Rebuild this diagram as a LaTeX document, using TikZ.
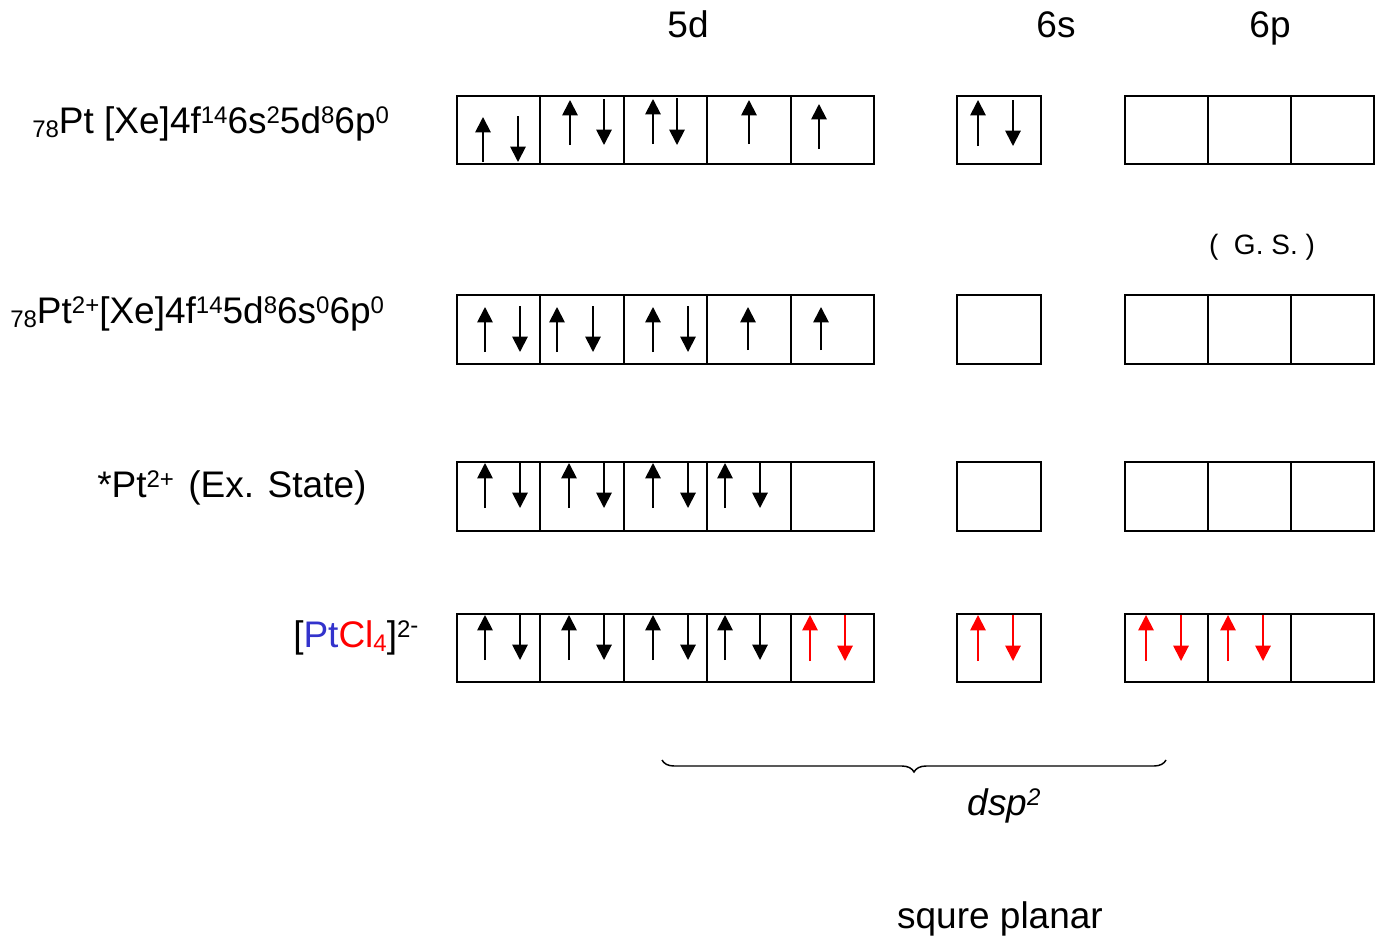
\documentclass[tikz,border=0pt]{standalone}
\usepackage{fontspec}
\setmainfont{Liberation Sans}
\usetikzlibrary{arrows.meta,decorations.pathreplacing}

\definecolor{ptblue}{RGB}{51,51,204}
\newcommand\supx[1]{\raisebox{7.5pt}{\fontsize{18}{18}\selectfont #1}}
\newcommand\subx[1]{\raisebox{-3pt}{\fontsize{18}{18}\selectfont #1}}

\tikzset{
  orb/.style={draw, line width=1.5pt, minimum width=62.55pt, minimum height=51.4pt,
              inner sep=0pt, outer sep=0pt},
  lbl/.style={anchor=base west, inner sep=0pt, font=\fontsize{27.75}{30}\selectfont},
  hdr/.style={anchor=base, inner sep=0pt, font=\fontsize{27.75}{30}\selectfont},
  spin/.style={line width=1.4pt, -{Triangle[width=11.5pt,length=11.5pt]}},
}

\begin{document}
\begin{tikzpicture}[x=0.75pt, y=-0.75pt]
\path[use as bounding box] (0,0) rectangle (1380,939);

% orbital headers
\node[hdr] (h5d) at (688,37) {5d};
\node[hdr] (h6s) at (1056,37) {6s};
\node[hdr] (h6p) at (1270,37) {6p};

% rows of orbital boxes: 5d (five), 6s (one), 6p (three)
\foreach \r/\yc in {1/130, 2/329.5, 3/496.5, 4/648}{
  \foreach \i/\xc in {1/498.7, 2/582.1, 3/665.5, 4/748.9, 5/832.3}
    \node[orb] (r\r d\i) at (\xc,\yc) {};
  \node[orb] (r\r s) at (999,\yc) {};
  \foreach \i/\xc in {1/1166.5, 2/1249.5, 3/1332.5}
    \node[orb] (r\r p\i) at (\xc,\yc) {};
}

% configuration labels
\node[lbl] (l1) at (32,133) {\subx{78}Pt [Xe]4f\supx{14}6s\supx{2}5d\supx{8}6p\supx{0}};
\node[lbl] (l2) at (10,323) {\subx{78}Pt\supx{2+}[Xe]4f\supx{14}5d\supx{8}6s\supx{0}6p\supx{0}};
\node[lbl] (l3) at (97,497) {*Pt\supx{2+}\ \hspace{3pt}(Ex. State)};
\node[lbl] (l4) at (293,647) {[{\color{ptblue}Pt}{\color{red}Cl\subx{4}}]\supx{2\raisebox{3pt}{-}}};
\node[anchor=base, inner sep=0pt, font=\fontsize{21}{24}\selectfont] (gs) at (1262,254) {(\ \ G. S. )};

% ground state Pt
\draw[spin] (483,162) -- (483,117);  \draw[spin] (518,116) -- (518,162);
\draw[spin] (570,145) -- (570,100);  \draw[spin] (604,99) -- (604,145);
\draw[spin] (653,144) -- (653,99);   \draw[spin] (677,98) -- (677,145);
\draw[spin] (749,144) -- (749,100);
\draw[spin] (819,149) -- (819,104);
\draw[spin] (978,146) -- (978,100);  \draw[spin] (1013,100) -- (1013,146);

% Pt2+
\foreach \u/\d in {485/520, 557/593, 653/688}{
  \draw[spin] (\u,352) -- (\u,307); \draw[spin] (\d,306) -- (\d,352);
}
\draw[spin] (748,350) -- (748,307);
\draw[spin] (821,350) -- (821,307);

% excited Pt2+
\foreach \u/\d in {485/520, 569/604, 653/688, 725/760}{
  \draw[spin] (\u,508) -- (\u,463); \draw[spin] (\d,463) -- (\d,508);
}

% [PtCl4]2- : metal electrons and ligand pairs
\foreach \u/\d in {485/520, 569/604, 653/688, 725/760}{
  \draw[spin] (\u,660) -- (\u,615); \draw[spin] (\d,615) -- (\d,660);
}
\foreach \u/\d in {810/845, 978/1013, 1146/1181, 1228/1263}{
  \draw[spin, red] (\u,661) -- (\u,615); \draw[spin, red] (\d,615) -- (\d,661);
}

% hybridisation brace
\coordinate (bl) at (662,760);
\coordinate (br) at (1166,760);
\draw[line width=1.1pt, decorate, decoration={brace, mirror, amplitude=9pt}] (bl) -- (br);
\node[anchor=base, inner sep=0pt, font=\fontsize{27.75}{30}\selectfont\itshape] (hyb) at (1004,815) {dsp\supx{2}};
\node[anchor=base, inner sep=0pt, font=\fontsize{27.75}{30}\selectfont] (geo) at (1000,928) {squre planar};
\end{tikzpicture}
\end{document}
